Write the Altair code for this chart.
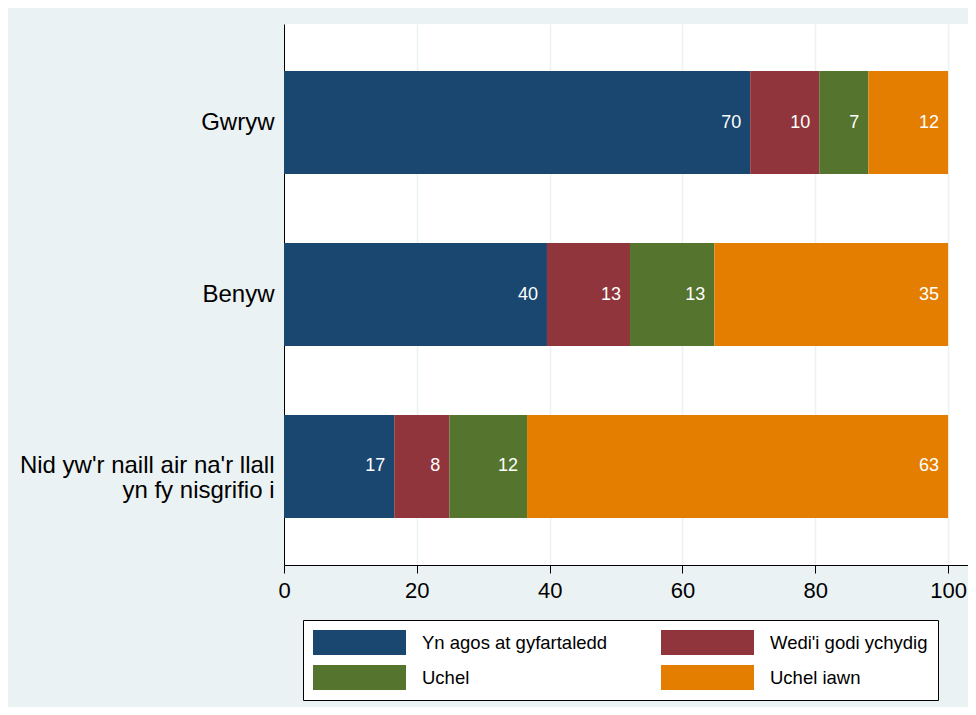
import altair as alt
import pandas as pd

categories = ["Gwryw", "Benyw", "Nid yw'r naill air na'r llall\nyn fy nisgrifio i"]
series = ["Yn agos at gyfartaledd", "Wedi'i godi ychydig", "Uchel", "Uchel iawn"]
colors = ["#1a476f", "#90353b", "#55752f", "#e37e00"]

yn_agos = [70.2, 39.6, 16.6]
wedi_godi = [10.4, 12.5, 8.3]
uchel = [7.4, 12.7, 11.7]
uchel_iawn = [12.0, 35.2, 63.4]

x_ticks = [0, 20, 40, 60, 80, 100]

rows = []
for s_i, (name, vals) in enumerate(zip(series, [yn_agos, wedi_godi, uchel, uchel_iawn])):
    for c_i, cat in enumerate(categories):
        rows.append({"cat": cat, "series": name, "order": s_i, "value": vals[c_i]})
df = pd.DataFrame(rows)

FONT = "Liberation Sans"

base = alt.Chart(df).transform_window(
    cum="sum(value)", groupby=["cat"], sort=[alt.SortField("order")], frame=[None, 0]
).transform_calculate(start="datum.cum - datum.value")

y_enc = alt.Y(
    "cat:N",
    sort=categories,
    scale=alt.Scale(paddingInner=0.4, paddingOuter=0.273),
    axis=alt.Axis(
        title=None, ticks=False, domain=True, domainColor="black", domainWidth=1,
        labelFontSize=24, labelFont=FONT, labelColor="black", labelPadding=10,
        labelLimit=400, labelLineHeight=25, grid=False,
        labelExpr="split(datum.label, '\\n')",
    ),
)

x_scale = alt.Scale(domain=[0, 103], nice=False, zero=True)

bars = base.mark_bar().encode(
    x=alt.X(
        "start:Q",
        scale=x_scale,
        axis=alt.Axis(
            title=None, values=x_ticks, grid=True, gridColor="#EAF2F3", gridWidth=1.5,
            domainColor="black", domainWidth=1, tickColor="black", tickSize=8,
            labelFontSize=22, labelFont=FONT, labelColor="black", labelPadding=7,
            labelFlush=False,
        ),
    ),
    x2="cum:Q",
    y=y_enc,
    color=alt.Color(
        "series:N",
        scale=alt.Scale(domain=series, range=colors),
        legend=alt.Legend(
            title=None, orient="none", legendX=19, legendY=596, columns=2,
            direction="horizontal",
            symbolType="M-1,-1H6.44V1H-1Z", symbolSize=625, symbolStrokeWidth=0,
            symbolOpacity=1,
            labelFontSize=18.5, labelFont=FONT, labelColor="black", labelOffset=84,
            labelLimit=400,
            columnPadding=53, rowPadding=10, padding=10,
            strokeColor="black", fillColor="white", cornerRadius=0,
        ),
    ),
)

labels = base.mark_text(
    align="right", baseline="middle", dx=-9, color="white", fontSize=18, font=FONT
).encode(
    x=alt.X("cum:Q", scale=x_scale),
    y=alt.Y("cat:N", sort=categories),
    text=alt.Text("value:Q", format=".0f"),
)

chart = (bars + labels).properties(
    width=684,
    height=541,
    background="#EAF2F3",
    padding={"left": 276, "top": 16, "right": 0, "bottom": 142},
    autosize=alt.AutoSizeParams(type="none"),
).configure_view(fill="white", stroke=None)

chart.save("out.html", embed_options={"renderer": "svg", "actions": False})
